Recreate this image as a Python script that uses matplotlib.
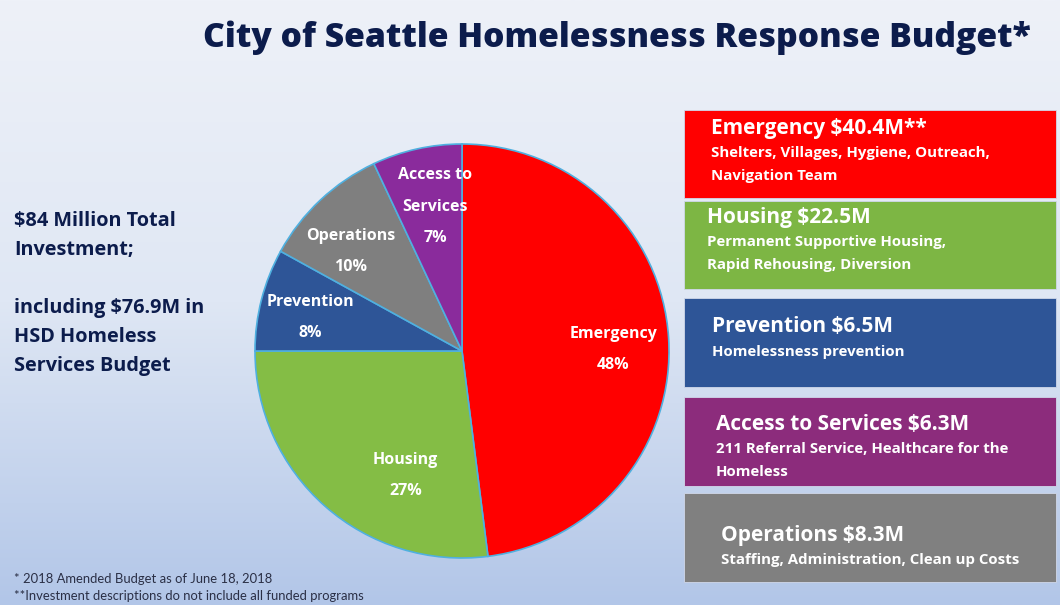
import numpy as np
import matplotlib.pyplot as plt
from matplotlib.patches import Rectangle
from matplotlib.colors import LinearSegmentedColormap

# chart data
categories = ["Emergency", "Housing", "Prevention", "Operations", "Access to Services"]
shares = [48, 27, 8, 10, 7]
pie_labels = ["Emergency", "Housing", "Prevention", "Operations", "Access to\nServices"]
pie_colors = ["#ff0000", "#84bd45", "#2e5597", "#7f7f7f", "#8a2b9c"]

box_titles = ["Emergency $40.4M**", "Housing $22.5M", "Prevention $6.5M",
              "Access to Services $6.3M", "Operations $8.3M"]
box_descs = [["Shelters, Villages, Hygiene, Outreach,", "Navigation Team"],
             ["Permanent Supportive Housing,", "Rapid Rehousing, Diversion"],
             ["Homelessness prevention"],
             ["211 Referral Service, Healthcare for the", "Homeless"],
             ["Staffing, Administration, Clean up Costs"]]
box_colors = ["#ff0000", "#7db644", "#2e5597", "#8c2c7c", "#808080"]

left_lines = ["$84 Million Total", "Investment;", "", "including $76.9M in",
              "HSD Homeless", "Services Budget"]
footnotes = ["* 2018 Amended Budget as of June 18, 2018",
             "**Investment descriptions do not include all funded programs"]

W, H = 1060, 605
navy = "#0c1c4c"
FONT = "Open Sans"


def fx(px):
    return px / W


def fy(py):
    return 1 - py / H


fig = plt.figure(figsize=(W / 100, H / 100), dpi=100)

# background gradient
bg = fig.add_axes([0, 0, 1, 1])
bg.set_axis_off()
cmap = LinearSegmentedColormap.from_list("bg", ["#eef1f8", "#dfe7f4", "#b2c6e8"])
grad = np.linspace(0, 1, 256).reshape(-1, 1)
bg.imshow(grad, aspect="auto", cmap=cmap, extent=[0, 1, 0, 1], origin="upper")
bg.set_xlim(0, 1)
bg.set_ylim(0, 1)

fig.text(fx(617), fy(38), "City of Seattle Homelessness Response Budget*",
         ha="center", va="center", fontsize=24.2, fontweight="heavy",
         color=navy, family=FONT)

# pie
cx, cy, r = 462, 351, 207
half = 212
pax = fig.add_axes([fx(cx - half), fy(cy + half), 2 * half / W, 2 * half / H])
wedges, _ = pax.pie(shares, colors=pie_colors, startangle=90, counterclock=False,
                    radius=1, wedgeprops=dict(edgecolor="#4fb0e0", linewidth=1.2))
lim = half / r
pax.set_xlim(-lim, lim)
pax.set_ylim(-lim, lim)
pax.set_aspect("equal")
pax.set_axis_off()

label_dist = [0.73, 0.66, 0.75, 0.72, 0.71]
label_nudge = [-3, 17, 2, 5, -2]
for w, lab, s, d, nd in zip(wedges, pie_labels, shares, label_dist, label_nudge):
    ang = np.deg2rad((w.theta1 + w.theta2) / 2 + nd)
    pax.text(d * np.cos(ang), d * np.sin(ang), f"{lab}\n{s}%", ha="center",
             va="center", color="white", fontsize=11.5, fontweight="bold",
             family=FONT, linespacing=2.3)

# right side boxes
box_y = [(110, 198), (201, 289), (298, 387), (397, 486), (493, 582)]
text_x = [711, 707, 712, 716, 721]
head_y = [128, 217, 327, 424, 535]
for (y0, y1), t, d, c, tx, hy in zip(box_y, box_titles, box_descs, box_colors,
                                     text_x, head_y):
    fig.patches.append(Rectangle((fx(684), fy(y1)), fx(1056) - fx(684),
                                 fy(y0) - fy(y1), transform=fig.transFigure,
                                 facecolor=c, edgecolor="#d0d8ea", linewidth=0.6))
    fig.text(fx(tx), fy(hy), t, ha="left", va="center", color="white",
             fontsize=15, fontweight="bold", family=FONT)
    for k, line in enumerate(d):
        fig.text(fx(tx), fy(hy + 25 + 23 * k), line, ha="left", va="center",
                 color="white", fontsize=10.8, fontweight="bold", family=FONT)

# left text
for i, line in enumerate(left_lines):
    fig.text(fx(14), fy(221 + i * 29), line, ha="left", va="center",
             color=navy, fontsize=14.3, fontweight="bold", family=FONT)

for i, line in enumerate(footnotes):
    fig.text(fx(14), fy(579 + i * 17), line, ha="left", va="center",
             color="#2a2f45", fontsize=9.4, family="Lato")

fig.savefig("out.png", dpi=100)
